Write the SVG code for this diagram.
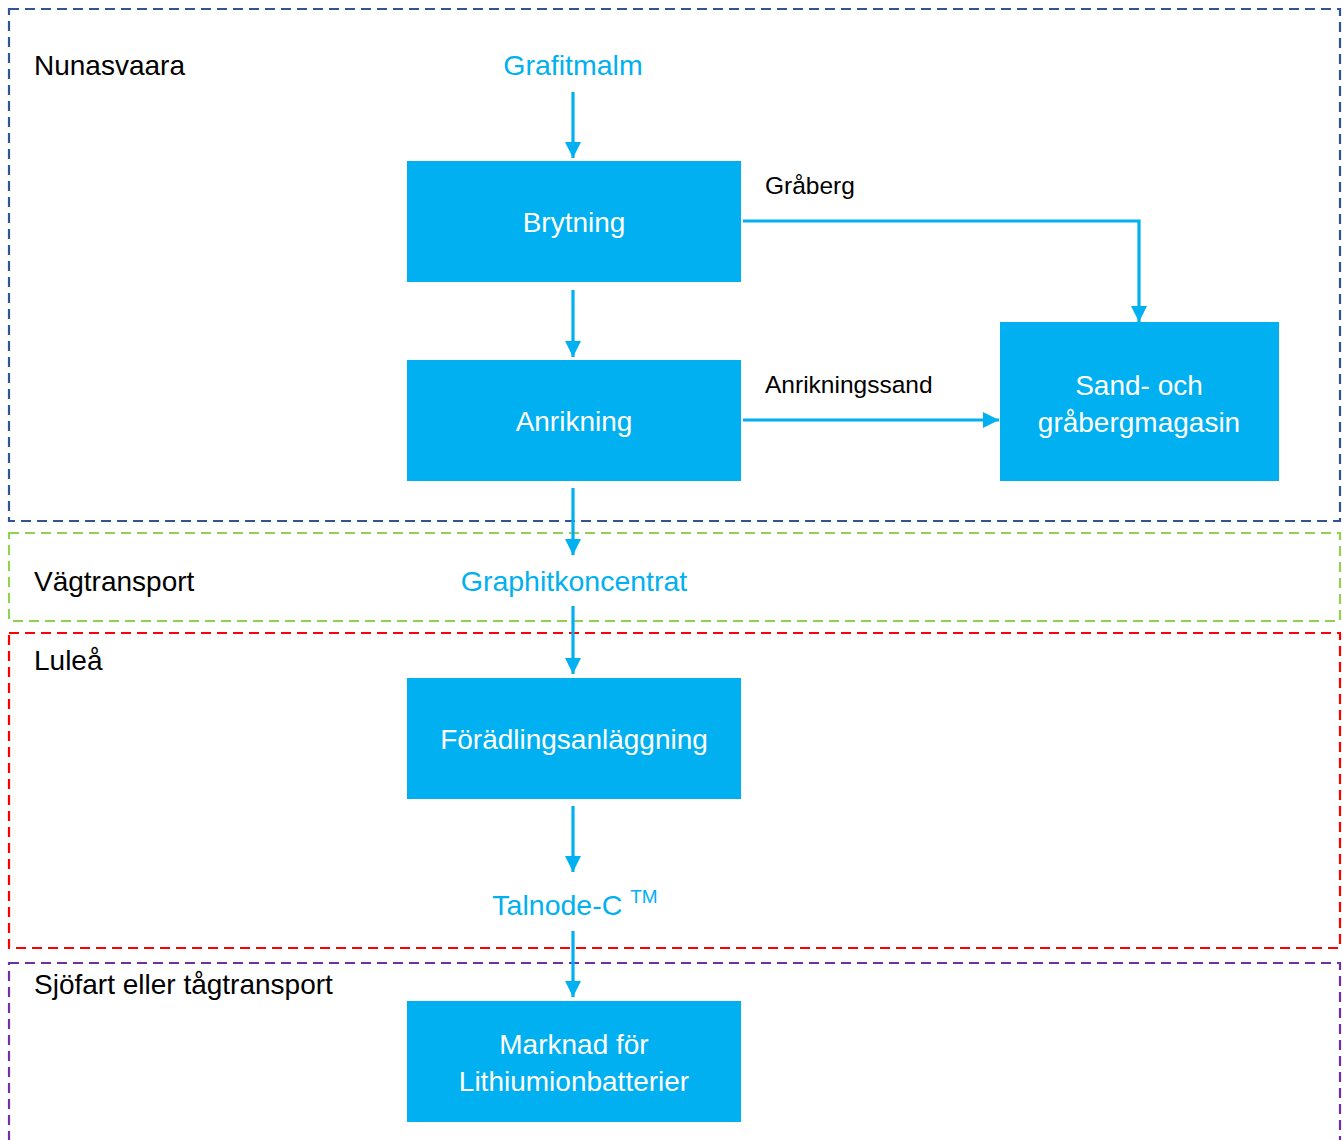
<svg xmlns="http://www.w3.org/2000/svg" width="1343" height="1140" viewBox="0 0 1343 1140">
<defs>
<style>
.zone{fill:none;stroke-width:2.2;stroke-dasharray:10 6}
.node{fill:#00B0F0}
.nt{font-family:"Liberation Sans",Arial,sans-serif;font-size:28px;fill:#FFFFFF;text-anchor:middle}
.lbl{font-family:"Liberation Sans",Arial,sans-serif;font-size:28px;fill:#000000}
.flow{font-family:"Liberation Sans",Arial,sans-serif;font-size:28.5px;fill:#00B0F0;text-anchor:middle}
.side{font-family:"Liberation Sans",Arial,sans-serif;font-size:24.5px;fill:#000000}
.conn{fill:none;stroke:#00B0F0;stroke-width:3.2}
</style>
<marker id="ah" viewBox="0 0 10 10" refX="10" refY="5" markerWidth="5" markerHeight="5" markerUnits="strokeWidth" orient="auto">
<path d="M0,0 L10,5 L0,10 z" fill="#00B0F0"/>
</marker>
</defs>
<rect width="1343" height="1140" fill="#FFFFFF"/>
<g id="zones">
<rect class="zone" x="9" y="9" width="1331" height="512" stroke="#2F5597"/>
<rect class="zone" x="9" y="533" width="1331" height="88" stroke="#92D050"/>
<rect class="zone" x="9" y="633" width="1331" height="315" stroke="#FF0000"/>
<rect class="zone" x="9" y="963" width="1331" height="190" stroke="#7030A0"/>
<text class="lbl" x="34" y="75">Nunasvaara</text>
<text class="lbl" x="34" y="591">Vägtransport</text>
<text class="lbl" x="34" y="670">Luleå</text>
<text class="lbl" x="34" y="994">Sjöfart eller tågtransport</text>
</g>
<g id="connectors">
<line class="conn" x1="573" y1="92" x2="573" y2="158" marker-end="url(#ah)"/>
<line class="conn" x1="573" y1="290" x2="573" y2="357" marker-end="url(#ah)"/>
<line class="conn" x1="573" y1="488" x2="573" y2="555" marker-end="url(#ah)"/>
<line class="conn" x1="573" y1="606" x2="573" y2="674" marker-end="url(#ah)"/>
<line class="conn" x1="573" y1="806" x2="573" y2="872" marker-end="url(#ah)"/>
<line class="conn" x1="573" y1="931" x2="573" y2="997" marker-end="url(#ah)"/>
<polyline class="conn" points="743,221 1139,221 1139,322" marker-end="url(#ah)"/>
<line class="conn" x1="743" y1="420" x2="999" y2="420" marker-end="url(#ah)"/>
<text class="side" x="765" y="194">Gråberg</text>
<text class="side" x="765" y="393">Anrikningssand</text>
</g>
<g id="grafitmalm"><text class="flow" x="573" y="75">Grafitmalm</text></g>
<g id="brytning">
<rect class="node" x="407" y="161" width="334" height="121"/>
<text class="nt" x="574" y="232">Brytning</text>
</g>
<g id="anrikning">
<rect class="node" x="407" y="360" width="334" height="121"/>
<text class="nt" x="574" y="431">Anrikning</text>
</g>
<g id="magasin">
<rect class="node" x="1000" y="322" width="279" height="159"/>
<text class="nt" x="1139" y="395">Sand- och</text>
<text class="nt" x="1139" y="432">gråbergmagasin</text>
</g>
<g id="graphitkoncentrat"><text class="flow" x="574" y="591">Graphitkoncentrat</text></g>
<g id="foradling">
<rect class="node" x="407" y="678" width="334" height="121"/>
<text class="nt" x="574" y="749">Förädlingsanläggning</text>
</g>
<g id="talnode"><text class="flow" x="575" y="915">Talnode-C <tspan font-size="19" dy="-12">TM</tspan></text></g>
<g id="marknad">
<rect class="node" x="407" y="1001" width="334" height="121"/>
<text class="nt" x="574" y="1054">Marknad för</text>
<text class="nt" x="574" y="1091">Lithiumionbatterier</text>
</g>
</svg>
